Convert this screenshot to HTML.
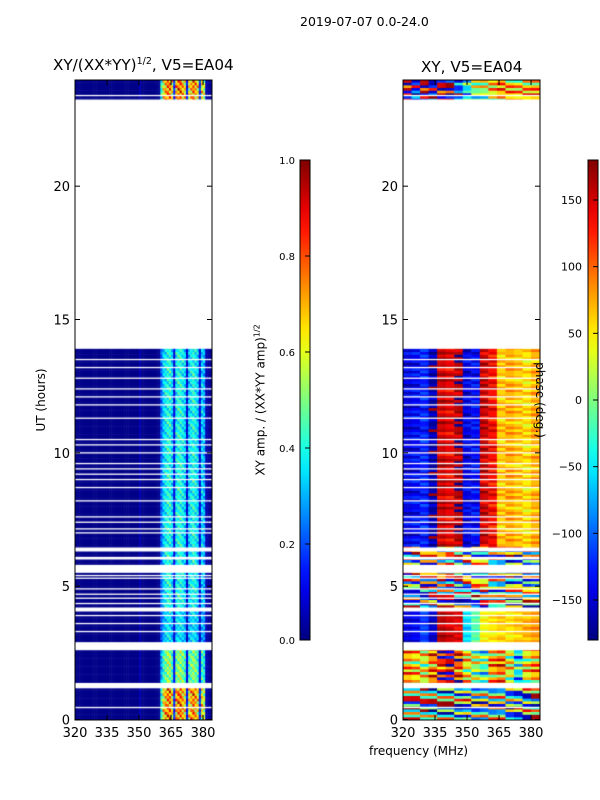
<!DOCTYPE html>
<html><head><meta charset="utf-8"><style>
body{margin:0;background:#fff;width:600px;height:800px;overflow:hidden;font-family:"DejaVu Sans","Liberation Sans",sans-serif}
#root{position:relative;width:600px;height:800px}
.t{position:absolute;white-space:nowrap;color:#000}
canvas{position:absolute}
</style></head><body>
<div id="root">
<div class="t" style="left:300px;top:14px;font-size:12.5px">2019-07-07 0.0-24.0</div>
<div class="t" style="left:53px;top:56px;font-size:15.2px">XY/(XX*YY)<sup style="font-size:9.5px">1/2</sup>, V5=EA04</div>
<div class="t" style="left:421px;top:58px;font-size:15.2px">XY, V5=EA04</div>
<div class="t" style="left:369px;top:744px;font-size:12px">frequency (MHz)</div>
<div class="t" style="left:41px;top:400px;font-size:12px;transform:translate(-50%,-50%) rotate(-90deg)">UT (hours)</div>
<div class="t" style="left:260px;top:400px;font-size:12px;transform:translate(-50%,-50%) rotate(-90deg)">XY amp. / (XX*YY amp)<sup style="font-size:8px">1/2</sup></div>
<canvas id="cl" width="137" height="640" style="left:75px;top:80px"></canvas>
<canvas id="cr" width="137" height="640" style="left:403px;top:80px"></canvas>
<svg id="ov" width="600" height="800" style="position:absolute;left:0;top:0"></svg>
<div class="t" style="left:540px;top:400px;font-size:12px;transform:translate(-50%,-50%) rotate(90deg)">phase (deg.)</div>
</div>
<script>
// ---- data ----
const segT = [0,1.25,2.7,4.2,5.0,6.5,14,23.2,24];
const ampGain = [1.6,1.1,0.75,0.85,0.85,0.85,0,1.6];
const ampRowMod = [1,0.8,0.95,0.7,1.1,0.85,0.75,1,0.9,0.65];
const colAmp = [0.01,0.01,0.01,0.01,0.01,0.01,0.01,0.01,0.01,0.01,0.01,0.01,0.01,0.01,0.01,0.01,
 0.01,0.01,0.01,0.01,0.01,0.01,0.01,0.01,0.01,0.01,0.01,0.01,0.01,0.01,0.05,0.01,
 0.01,0.01,0.01,0.01,0.01,0.01,0.01,0.02,0.3,0.45,0.5,0.55,0.55,0.45,0.12,0.5,
 0.55,0.55,0.5,0.45,0.1,0.45,0.5,0.55,0.5,0.45,0.12,0.45,0.4,0.05,0.03,0.02];
const phaseProfiles = [
 [150,150,150,160,170,170,-170,-150,-120,-100,-90,-80,-120,-150,-160,170],
 [60,40,20,80,120,150,100,30,0,-30,60,80,20,-60,30,60],
 [-150,-140,-120,-160,160,150,140,-60,-20,40,50,60,50,60,70,80],
 [-150,-150,-160,150,150,140,-170,-160,-140,140,-30,-20,60,60,50,40],
 [120,80,60,60,70,120,160,60,40,30,-60,-80,20,40,60,80],
 [-150,-140,-130,-170,150,140,160,-150,-140,150,130,60,70,60,50,70],
 [0,0,0,0,0,0,0,0,0,0,0,0,0,0,0,0],
 [150,-150,160,-160,150,170,-120,-60,-10,0,30,60,50,40,50,60]];
const phaseWeight = [1,0.5,0.1,0.8,1,0.15,0,0.5];
const rowOffset = [0,180,-60,150,20,-150,90,0];
const gapBands = [[13.9,23.25],[1.17,1.37],[2.6,2.9],[4.05,4.2],[5.5,5.8],[6.0,6.1],[6.3,6.45]];
const thinGaps = [0.45,3.3,3.6,3.9,4.35,4.55,4.7,4.9,5.3,5.4,7.0,7.15,7.4,7.6,8.2,8.7,9.0,9.2,9.4,9.6,10.0,10.3,10.5,11.3,11.8,12.1,12.4,12.8,13.2,13.5,23.4];
const yTicks = [0,5,10,15,20];
const xTicks = [320,335,350,365,380];
const ampTicks = ["0.0","0.2","0.4","0.6","0.8","1.0"];
const phaseTicks = [-150,-100,-50,0,50,100,150];
// ---- scales ----
const H0=719.5,PXH=640/24;
const yS=h=>H0-h*PXH;
const xL=f=>75+(f-320)*137/64.2, xR=f=>403+(f-320)*137/64.2;
function jet(v){v=Math.max(0,Math.min(1,v));
 const r=Math.max(0,Math.min(1,1.5-Math.abs(4*v-3))),g=Math.max(0,Math.min(1,1.5-Math.abs(4*v-2))),b=Math.max(0,Math.min(1,1.5-Math.abs(4*v-1)));
 return `rgb(${r*255|0},${g*255|0},${b*255|0})`;}
function seg(h){for(let i=0;i<segT.length-1;i++)if(h>=segT[i]&&h<segT[i+1])return i;return 0;}
const cl=document.getElementById('cl').getContext('2d'),cr=document.getElementById('cr').getContext('2d');
const nRows=240,dt=24/nRows;
for(let r=0;r<nRows;r++){const h=r*dt,s=seg(h+dt/2);
 const y1=yS(h+dt)-80,y0=yS(h)-80;
 for(let c=0;c<64;c++){
  const a=colAmp[c]*(c>39&&c<61?ampGain[s]*ampRowMod[(r+c)%ampRowMod.length]:1);
  cl.fillStyle=jet(a);cl.fillRect(xL(320+c)-75,y1,xL(321+c)-xL(320+c)+0.5,y0-y1+0.5);
  let p=phaseProfiles[s][Math.floor(c/4)]+rowOffset[(r+Math.floor(c/8))%rowOffset.length]*phaseWeight[s];
  p=((p+180)%360+360)%360-180;
  cr.fillStyle=jet((p+180)/360);cr.fillRect(xR(320+c)-403,y1,xR(321+c)-xR(320+c)+0.5,y0-y1+0.5);
 }}
[cl,cr].forEach(ctx=>{ctx.fillStyle='#fff';
 gapBands.forEach(g=>{ctx.fillRect(0,yS(g[1])-80,137,yS(g[0])-yS(g[1]));});
 thinGaps.forEach(g=>ctx.fillRect(0,yS(g)-80-0.6,137,1.3));
 ctx.fillRect(0,0,137,yS(24)-80);});
// ---- overlay ----
const svg=document.getElementById('ov'),NS='http://www.w3.org/2000/svg';
const FF='DejaVu Sans, Liberation Sans, sans-serif';
function mk(t,a,txt){const e=document.createElementNS(NS,t);for(const k in a)e.setAttribute(k,a[k]);if(txt!==undefined)e.textContent=txt;svg.appendChild(e);return e;}
const defs=mk('defs',{});
const lg=document.createElementNS(NS,'linearGradient');lg.setAttribute('id','jg');lg.setAttribute('x1','0');lg.setAttribute('y1','1');lg.setAttribute('x2','0');lg.setAttribute('y2','0');
for(let i=0;i<=20;i++){const st=document.createElementNS(NS,'stop');st.setAttribute('offset',i/20);st.setAttribute('stop-color',jet(i/20));lg.appendChild(st);}
defs.appendChild(lg);
let e=mk('rect',{x:300,y:160,width:10,height:480,fill:'url(#jg)',stroke:'#000','stroke-width':1});

e=mk('rect',{x:588,y:160,width:10,height:480,fill:'url(#jg)',stroke:'#000','stroke-width':1});

ampTicks.forEach((t,i)=>{const y=640-i*96;mk('line',{x1:305,x2:310,y1:y,y2:y,stroke:'#000'});
 e=mk('text',{x:295,y:y+4,'font-size':10,'text-anchor':'end','font-family':FF},t);
 });
phaseTicks.forEach(t=>{const y=400-t*480/360;mk('line',{x1:593,x2:598,y1:y,y2:y,stroke:'#000'});
 e=mk('text',{x:582,y:y+4,'font-size':11,'text-anchor':'end','font-family':FF},t<0?'\u2212'+(-t):String(t));
 });
[[75,xL],[403,xR]].forEach(([x0,xs],k)=>{
 e=mk('rect',{x:x0,y:80,width:137,height:640,fill:'none',stroke:'#000','stroke-width':1});
 
 yTicks.forEach(t=>{const y=yS(t);mk('line',{x1:x0,x2:x0+5,y1:y,y2:y,stroke:'#000'});mk('line',{x1:x0+132,x2:x0+137,y1:y,y2:y,stroke:'#000'});
  e=mk('text',{x:x0-5,y:y+5,'font-size':13,'text-anchor':'end','font-family':FF},t);
  });
 xTicks.forEach(t=>{const x=xs(t);mk('line',{x1:x,x2:x,y1:715,y2:720,stroke:'#000'});mk('line',{x1:x,x2:x,y1:80,y2:85,stroke:'#000'});
  e=mk('text',{x:x,y:737,'font-size':13,'text-anchor':'middle','font-family':FF},t);
  });
});
</script>
</body></html>
